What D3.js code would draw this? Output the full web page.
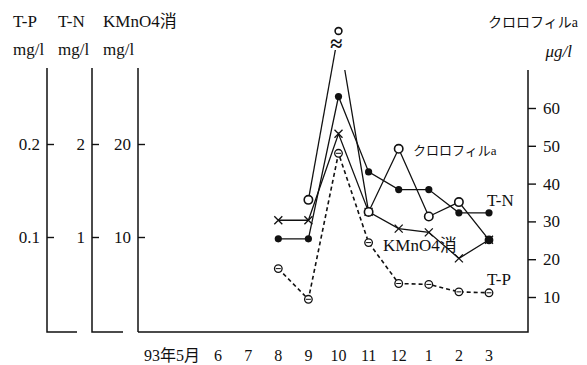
<!DOCTYPE html>
<html>
<head>
<meta charset="utf-8">
<script src="https://cdn.jsdelivr.net/npm/d3@7"></script>
<style>
  html, body { margin: 0; padding: 0; background: #fff; }
  svg { display: block; }
</style>
</head>
<body>
<svg id="chart" width="587" height="365"></svg>
<script>
// Monthly water-quality observations, May 1993 – March 1994
const months = ["93年5月", "6", "7", "8", "9", "10", "11", "12", "1", "2", "3"];
const sampledMonths = ["8", "9", "10", "11", "12", "1", "2", "3"];
const tpValues = [0.066, 0.033, 0.190, 0.094, 0.050, 0.049, 0.041, 0.040];   // mg/l
const tnValues = [0.98, 0.98, 2.51, 1.70, 1.51, 1.51, 1.26, 1.26];           // mg/l
const kmnoValues = [11.8, 11.8, 21.1, 12.7, 10.9, 10.5, 7.7, 9.7];           // mg/l
const chlMonths = ["9", "10", "11", "12", "1", "2", "3"];
const chlValues = [35.7, 80.0, 32.5, 49.2, 31.3, 35.1, 25.1];                // μg/l
const tpTicks = [0.1, 0.2];
const tnTicks = [1, 2];
const kmnoTicks = [10, 20];
const chlTicks = [10, 20, 30, 40, 50, 60];

const serif = "'Liberation Serif', 'Times New Roman', Tinos, 'DejaVu Serif', 'Noto Sans CJK JP', serif";
const svg = d3.select("#chart");
const ink = "#111";

const x = d3.scalePoint().domain(months).range([188, 489]);
const yTP = d3.scaleLinear().domain([0, 0.2]).range([330, 144]);
const yTN = d3.scaleLinear().domain([0, 2]).range([330, 144]);
const yK = d3.scaleLinear().domain([0, 20]).range([330, 144]);
const yChl = d3.scaleLinear().domain([10, 60]).range([297, 108]);

const axisTop = 68, axisBottom = 332;

// Header labels
const header = svg.append("g").attr("font-size", 17);
[["T-P", 13], ["T-N", 58], ["KMnO4消", 103]].forEach(([t, px]) => {
  header.append("text").attr("x", px).attr("y", 27).text(t);
  header.append("text").attr("x", px).attr("y", 55).text("mg/l");
});
header.append("text").attr("x", 578).attr("y", 27).attr("text-anchor", "end")
  .attr("font-size", 14).text("クロロフィルa");
header.append("text").attr("x", 572).attr("y", 57).attr("text-anchor", "end")
  .attr("font-style", "italic").text("μg/l");

// Left-hand value axes (labels on the left, ticks pointing right)
function leftAxis(scale, ticks, fmt, ax, stub) {
  const g = svg.append("g").attr("transform", `translate(${ax},0)`);
  g.call(d3.axisLeft(scale).tickValues(ticks).tickFormat(fmt)
      .tickSizeInner(-7).tickSizeOuter(0).tickPadding(7));
  g.select(".domain").remove();
  g.attr("font-size", 17);
  g.selectAll(".tick line").attr("stroke", ink).attr("stroke-width", 1.4);
  svg.append("path")
    .attr("d", `M${ax},${axisTop}V${axisBottom}` + (stub ? `H${ax + stub}` : ""))
    .attr("fill", "none").attr("stroke", ink).attr("stroke-width", 1.5);
}
leftAxis(yTP, tpTicks, d3.format(".1f"), 47, 30);
leftAxis(yTN, tnTicks, d3.format("d"), 92, 31);
leftAxis(yK, kmnoTicks, d3.format("d"), 138, 0);

// Plot frame: bottom and right sides
svg.append("path")
  .attr("d", `M138,${axisBottom}H528V70`)
  .attr("fill", "none").attr("stroke", ink).attr("stroke-width", 1.5);

// Right-hand chlorophyll axis
const gR = svg.append("g").attr("transform", "translate(528,0)");
gR.call(d3.axisRight(yChl).tickValues(chlTicks).tickFormat(d3.format("d"))
    .tickSizeInner(8).tickSizeOuter(0).tickPadding(7));
gR.select(".domain").remove();
gR.attr("font-size", 17);
gR.selectAll(".tick line").attr("stroke", ink).attr("stroke-width", 1.4);

// Month labels
svg.append("g").attr("font-size", 16).selectAll("text").data(months).join("text")
  .attr("x", (d, i) => i === 0 ? x(d) + 12 : x(d))
  .attr("y", 361)
  .attr("text-anchor", (d, i) => i === 0 ? "end" : "middle")
  .text(d => d);

const line = (ys) => d3.line().x(d => x(d[0])).y(d => ys(d[1]));
const pairs = (ms, vs) => ms.map((m, i) => [m, vs[i]]);

// T-P: dashed line with small circled markers
const tp = pairs(sampledMonths, tpValues);
svg.append("path").attr("d", line(yTP)(tp))
  .attr("fill", "none").attr("stroke", ink).attr("stroke-width", 1.6)
  .attr("stroke-dasharray", "4,3");
const tpMarks = svg.append("g").selectAll("g").data(tp).join("g")
  .attr("transform", d => `translate(${x(d[0])},${yTP(d[1])})`);
tpMarks.append("circle").attr("r", 3.8).attr("fill", "#fff")
  .attr("stroke", ink).attr("stroke-width", 1.3);
tpMarks.append("line").attr("x1", -2.5).attr("x2", 2.5)
  .attr("stroke", ink).attr("stroke-width", 1);

// KMnO4 consumption: solid line with × markers
const km = pairs(sampledMonths, kmnoValues);
svg.append("path").attr("d", line(yK)(km))
  .attr("fill", "none").attr("stroke", ink).attr("stroke-width", 1.3);
svg.append("g").selectAll("path").data(km).join("path")
  .attr("d", d => {
    const cx = x(d[0]), cy = yK(d[1]), s = 4;
    return `M${cx - s},${cy - s}L${cx + s},${cy + s}M${cx - s},${cy + s}L${cx + s},${cy - s}`;
  })
  .attr("stroke", ink).attr("stroke-width", 1.3);

// T-N: solid line with filled dots
const tn = pairs(sampledMonths, tnValues);
svg.append("path").attr("d", line(yTN)(tn))
  .attr("fill", "none").attr("stroke", ink).attr("stroke-width", 1.3);
svg.append("g").selectAll("circle").data(tn).join("circle")
  .attr("cx", d => x(d[0])).attr("cy", d => yTN(d[1])).attr("r", 3.6).attr("fill", ink);

// Chlorophyll a: solid line with open circles; the October value runs off
// the scale, so the segments into it are cut and the point sits above a break mark
const chl = pairs(chlMonths, chlValues);
const peakIdx = 1;
const cutY = [50, 70];   // where the segments before/after the peak stop
function cutPoint(a, b, yLimit) {
  const ax = x(a[0]), ay = yChl(a[1]), bx = x(b[0]), by = yChl(b[1]);
  const t = (ay - yLimit) / (ay - by);
  return [ax + (bx - ax) * t, yLimit];
}
const pts = chl.map(d => [x(d[0]), yChl(d[1])]);
const before = cutPoint(chl[peakIdx - 1], chl[peakIdx], cutY[0]);
const after = cutPoint(chl[peakIdx + 1], chl[peakIdx], cutY[1]);
svg.append("path")
  .attr("d", d3.line()([pts[0], before]))
  .attr("fill", "none").attr("stroke", ink).attr("stroke-width", 1.3);
svg.append("path")
  .attr("d", d3.line()([after, ...pts.slice(peakIdx + 1)]))
  .attr("fill", "none").attr("stroke", ink).attr("stroke-width", 1.3);
svg.append("text").attr("class", "brk").attr("x", before[0] + 1).attr("y", 51)
  .attr("text-anchor", "middle").attr("font-size", 22).attr("font-weight", "bold").text("≈");
svg.append("g").selectAll("circle").data(chl).join("circle")
  .attr("cx", d => x(d[0]))
  .attr("cy", (d, i) => i === peakIdx ? 31 : yChl(d[1]))
  .attr("r", (d, i) => i === chl.length - 1 ? 3.6 : (i === peakIdx ? 3.4 : 4.2))
  .attr("fill", (d, i) => i === chl.length - 1 ? ink : "#fff")
  .attr("stroke", ink).attr("stroke-width", 1.6);

// Series labels
const lab = svg.append("g").attr("font-size", 17);
lab.append("text").attr("x", 413).attr("y", 155).attr("font-size", 13).text("クロロフィルa");
lab.append("text").attr("x", 487).attr("y", 206).text("T-N");
lab.append("text").attr("x", 383).attr("y", 251).text("KMnO4消");
lab.append("text").attr("x", 487).attr("y", 285).text("T-P");

// Serif face for every label
svg.selectAll("g").attr("font-family", null);
svg.selectAll("text").attr("font-family", serif).attr("fill", ink);
</script>
</body>
</html>
